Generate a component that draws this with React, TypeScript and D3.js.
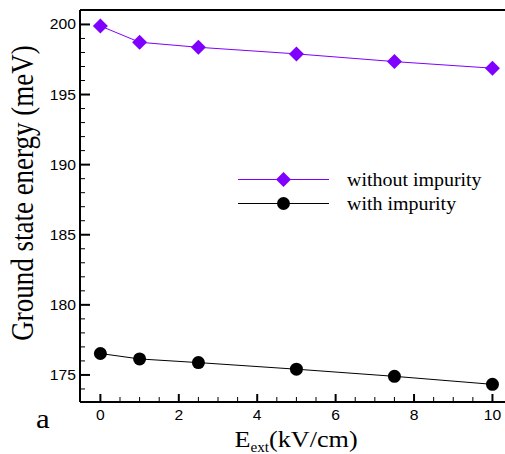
import React from "react";
import * as d3 from "d3";

const fieldValues = [0, 1, 2.5, 5, 7.5, 10];
const withoutImpurity = [199.89, 198.73, 198.37, 197.9, 197.35, 196.88];
const withImpurity = [176.53, 176.14, 175.88, 175.41, 174.9, 174.33];
const xTickLabels = [0, 2, 4, 6, 8, 10];
const yTickLabels = [175, 180, 185, 190, 195, 200];
const seriesNames = ["without impurity", "with impurity"];

const W = 505;
const H = 454;
const left = 80;
const top = 10;
const bottom = 402;
const right = 505;

export default function App() {
  const x = d3.scaleLinear().domain([-0.52, 10.32]).range([left, right]);
  const y = d3.scaleLinear().domain([173.07, 201.03]).range([bottom, top]);
  const line = d3
    .line<[number, number]>()
    .x((d) => x(d[0]))
    .y((d) => y(d[1]));
  const purple = "#7f00ff";
  const d1 = fieldValues.map((v, i) => [v, withoutImpurity[i]] as [number, number]);
  const d2 = fieldValues.map((v, i) => [v, withImpurity[i]] as [number, number]);
  const minorX = d3.range(0, 10.01, 0.5).filter((v) => !xTickLabels.includes(v));
  const minorY = d3.range(174, 201, 1).filter((v) => !yTickLabels.includes(v));
  const diamond = (cx: number, cy: number, r: number) =>
    `M${cx},${cy - r}L${cx + r},${cy}L${cx},${cy + r}L${cx - r},${cy}Z`;
  const serif = "'Liberation Serif', 'Times New Roman', serif";
  const sans = "'Liberation Sans', Arial, sans-serif";
  const sx = 1.12;

  return (
    <svg
      width={W}
      height={H}
      style={{ position: "absolute", left: 0, top: 0, background: "#fff" }}
    >
      {/* frame */}
      <line x1={left} x2={right} y1={top} y2={top} stroke="#000" strokeWidth={2} />
      <line x1={left} x2={right} y1={bottom} y2={bottom} stroke="#000" strokeWidth={2} />
      <line x1={left} x2={left} y1={top} y2={bottom} stroke="#000" strokeWidth={2} />
      {/* y ticks */}
      {yTickLabels.map((v) => (
        <g key={"y" + v}>
          <line x1={left} x2={left + 10} y1={y(v)} y2={y(v)} stroke="#000" strokeWidth={2} />
          <text
            transform={`translate(${left - 4},${y(v) + 5}) scale(${sx},1)`}
            textAnchor="end"
            fontFamily={sans}
            fontSize={14}
            fill="#000"
          >
            {v}
          </text>
        </g>
      ))}
      {minorY.map((v) => (
        <line key={"my" + v} x1={left} x2={left + 5} y1={y(v)} y2={y(v)} stroke="#000" strokeWidth={1} />
      ))}
      {/* x ticks */}
      {xTickLabels.map((v) => (
        <g key={"x" + v}>
          <line x1={x(v)} x2={x(v)} y1={bottom} y2={bottom - 8} stroke="#000" strokeWidth={2} />
          <text
            transform={`translate(${x(v)},419.5) scale(${sx},1)`}
            textAnchor="middle"
            fontFamily={sans}
            fontSize={14}
            fill="#000"
          >
            {v}
          </text>
        </g>
      ))}
      {minorX.map((v) => (
        <line key={"mx" + v} x1={x(v)} x2={x(v)} y1={bottom} y2={bottom - 5} stroke="#000" strokeWidth={1} />
      ))}
      {/* series */}
      <path d={line(d1) || ""} fill="none" stroke={purple} strokeWidth={1} />
      <path d={line(d2) || ""} fill="none" stroke="#000" strokeWidth={1} />
      {d1.map((d, i) => (
        <path key={"p1" + i} d={diamond(x(d[0]), y(d[1]), 7.5)} fill={purple} />
      ))}
      {d2.map((d, i) => (
        <circle key={"p2" + i} cx={x(d[0])} cy={y(d[1])} r={6.5} fill="#000" />
      ))}
      {/* legend */}
      <line x1={238} x2={329} y1={179.5} y2={179.5} stroke={purple} strokeWidth={1} />
      <path d={diamond(283.5, 179.5, 7.5)} fill={purple} />
      <text transform="translate(347,186) scale(1.05,1)" fontFamily={serif} fontSize={19} fill="#000">
        {seriesNames[0]}
      </text>
      <line x1={238} x2={329} y1={203.5} y2={203.5} stroke="#000" strokeWidth={1} />
      <circle cx={283.5} cy={203.5} r={6.5} fill="#000" />
      <text transform="translate(347,210) scale(1.05,1)" fontFamily={serif} fontSize={19} fill="#000">
        {seriesNames[1]}
      </text>
      {/* axis titles */}
      <text
        transform="translate(33,193) rotate(-90) scale(1,1.15)"
        textAnchor="middle"
        fontFamily={serif}
        fontSize={27}
        fill="#000"
      >
        Ground state energy (meV)
      </text>
      <text
        transform="translate(296,447) scale(1.09,1)"
        textAnchor="middle"
        fontFamily={serif}
        fontSize={24}
        fill="#000"
      >
        E<tspan fontSize={14} dy={5}>ext</tspan>
        <tspan dy={-5}>(kV/cm)</tspan>
      </text>
      <text transform="translate(36,428) scale(1.1,1)" fontFamily={serif} fontSize={28} fill="#000">
        a
      </text>
    </svg>
  );
}
